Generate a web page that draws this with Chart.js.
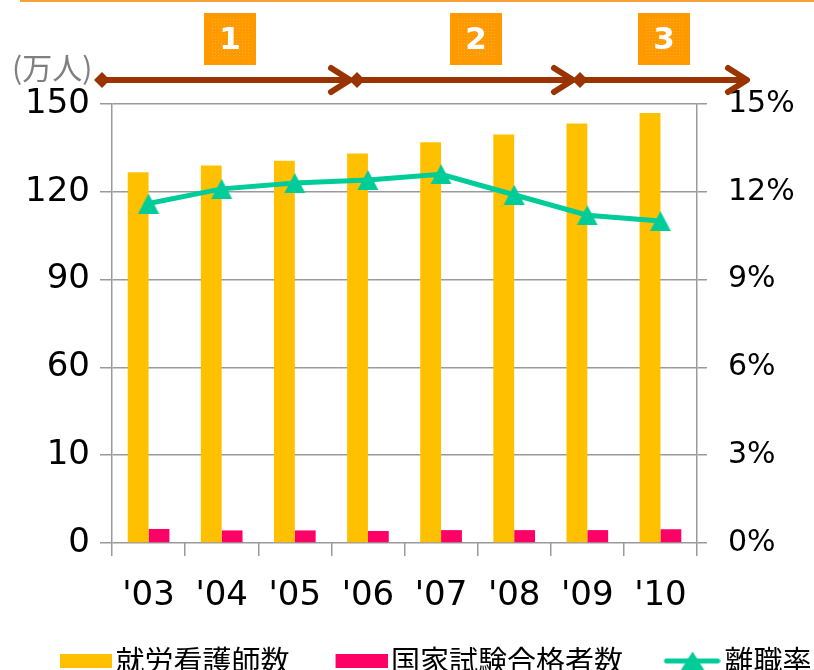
<!DOCTYPE html>
<html>
<head>
<meta charset="utf-8">
<script src="https://cdn.jsdelivr.net/npm/chart.js@4/dist/chart.umd.min.js"></script>
<style>
  body { margin: 0; background: #fff; }
  canvas { display: block; }
</style>
</head>
<body>
<canvas id="chart" width="814" height="670"></canvas>
<script>
// data
const years = ["'03", "'04", "'05", "'06", "'07", "'08", "'09", "'10"];
const nurses = [126.7, 129.0, 130.6, 133.1, 136.9, 139.6, 143.3, 146.9];   // 就労看護師数 (万人)
const passers = [4.8, 4.3, 4.3, 4.1, 4.4, 4.4, 4.4, 4.7];                  // 国家試験合格者数 (万人)
const turnover = [11.6, 12.1, 12.3, 12.4, 12.6, 11.9, 11.2, 11.0];         // 離職率 (%)
const leftTickLabels = ["0", "10", "60", "90", "120", "150"];
const seriesNames = ["就労看護師数", "国家試験合格者数", "離職率"];

const GOLD = "#FFC000", PINK = "#FF0066", TEAL = "#00CC99";
const GRID = "#9a9a9a", BROWN = "#993300", ORANGE = "#FF9900";

function makeCanvas(w, h, draw) {
  const c = document.createElement("canvas");
  c.width = w; c.height = h;
  draw(c.getContext("2d"), w, h);
  return c;
}
function triangle(ctx, cx, cy, w, h) {
  ctx.beginPath();
  ctx.moveTo(cx, cy - h / 2);
  ctx.lineTo(cx + w / 2, cy + h / 2);
  ctx.lineTo(cx - w / 2, cy + h / 2);
  ctx.closePath();
  ctx.fill();
}
// legend keys: a transparent lead-in on the left so the swatch sits close to its text
const KEY_W = 83;
const triMarker = makeCanvas(22, 20, (ctx, w, h) => { ctx.fillStyle = TEAL; triangle(ctx, w / 2, h / 2, 21, 20); });
const goldKey = makeCanvas(KEY_W + 22, 14, (ctx, w, h) => { ctx.fillStyle = GOLD; ctx.fillRect(w - 52, 0, 52, h); });
const pinkKey = makeCanvas(KEY_W + 22, 14, (ctx, w, h) => { ctx.fillStyle = PINK; ctx.fillRect(w - 52, 0, 52, h); });
const lineKey = makeCanvas(KEY_W + 21, 20, (ctx, w, h) => {
  ctx.strokeStyle = TEAL; ctx.lineWidth = 5; ctx.lineCap = "round";
  ctx.beginPath(); ctx.moveTo(w - 54, h / 2); ctx.lineTo(w - 3, h / 2); ctx.stroke();
  ctx.fillStyle = TEAL; triangle(ctx, w - 28, h / 2, 24, 19);
});

// top band: orange rule, unit label, numbered phases and arrows
const decorations = {
  id: "decorations",
  afterDraw(chart) {
    const ctx = chart.ctx;
    ctx.save();
    ctx.strokeStyle = "#F7A13A"; ctx.lineWidth = 2;
    ctx.beginPath(); ctx.moveTo(20, 1); ctx.lineTo(814, 1); ctx.stroke();

    ctx.fillStyle = "#808080";
    ctx.font = "30px 'Noto Sans CJK JP'";
    ctx.textBaseline = "middle"; ctx.textAlign = "left";
    ctx.fillText("(万人)", 12, 68);

    [[204, "1"], [450, "2"], [638, "3"]].forEach(([x, n]) => {
      ctx.fillStyle = ORANGE;
      ctx.fillRect(x, 13, 52, 52);
      ctx.fillStyle = "rgba(255,255,255,0.18)";
      for (let i = x + 8; i < x + 46; i += 3)
        for (let j = 19; j < 60; j += 3) ctx.fillRect(i, j, 1, 1);
      ctx.fillStyle = "#fff";
      ctx.font = "bold 31px 'DejaVu Sans'";
      ctx.textAlign = "center";
      ctx.fillText(n, x + 26, 41);
    });

    const y = 80;
    ctx.strokeStyle = BROWN; ctx.fillStyle = BROWN;
    ctx.lineWidth = 6; ctx.lineCap = "round"; ctx.lineJoin = "round";
    [[102, 350], [357, 573], [580, 747]].forEach(([a, b]) => {
      ctx.beginPath(); ctx.moveTo(a, y); ctx.lineTo(b - 3, y); ctx.stroke();
      ctx.beginPath();
      ctx.moveTo(b - 19, y - 12); ctx.lineTo(b, y); ctx.lineTo(b - 19, y + 12);
      ctx.stroke();
      ctx.beginPath();
      ctx.moveTo(a - 8, y); ctx.lineTo(a, y - 8); ctx.lineTo(a + 8, y); ctx.lineTo(a, y + 8);
      ctx.closePath(); ctx.fill();
    });
    ctx.restore();
  }
};

new Chart(document.getElementById("chart"), {
  type: "bar",
  data: {
    labels: years,
    datasets: [
      {
        type: "line", label: seriesNames[2], data: turnover, yAxisID: "y1", order: 0,
        borderColor: TEAL, borderWidth: 5, pointStyle: triMarker, pointRadius: 10,
        backgroundColor: TEAL
      },
      {
        label: seriesNames[0], data: nurses, yAxisID: "y", order: 1,
        backgroundColor: GOLD, categoryPercentage: 0.57, barPercentage: 1
      },
      {
        label: seriesNames[1], data: passers, yAxisID: "y", order: 2,
        backgroundColor: PINK, categoryPercentage: 0.57, barPercentage: 1
      }
    ]
  },
  options: {
    responsive: false,
    animation: false,
    devicePixelRatio: 1,
    layout: { padding: { top: 104, left: 14, right: -20, bottom: -15.5 } },
    plugins: {
      tooltip: { enabled: false },
      legend: {
        position: "bottom",
        align: "start",
        labels: {
          usePointStyle: true,
          pointStyleWidth: KEY_W,
          padding: 4,
          color: "#000",
          font: { family: "'Noto Sans CJK JP'", size: 29 },
          generateLabels: () => [
            { text: seriesNames[0], pointStyle: goldKey, fillStyle: GOLD, strokeStyle: GOLD, lineWidth: 0, datasetIndex: 1, hidden: false },
            { text: seriesNames[1], pointStyle: pinkKey, fillStyle: PINK, strokeStyle: PINK, lineWidth: 0, datasetIndex: 2, hidden: false },
            { text: seriesNames[2], pointStyle: lineKey, fillStyle: TEAL, strokeStyle: TEAL, lineWidth: 0, datasetIndex: 0, hidden: false }
          ]
        }
      }
    },
    scales: {
      x: {
        grid: { offset: true, drawOnChartArea: false, color: GRID, lineWidth: 1.5, tickLength: 13 },
        border: { display: false },
        ticks: { color: "#000", padding: 20, font: { family: "'DejaVu Sans'", size: 34 }, maxRotation: 0 },
        afterFit(s) { s.height = 99.5; }
      },
      y: {
        position: "left",
        min: 0, max: 150,
        ticks: {
          stepSize: 30, color: "#000", padding: 10,
          font: { family: "'DejaVu Sans'", size: 34 },
          callback: (v, i) => leftTickLabels[i]
        },
        grid: { color: GRID, lineWidth: 1.5, tickLength: 12 },
        border: { color: GRID, width: 1.5 },
        afterFit(s) { s.width = 98; }
      },
      y1: {
        position: "right",
        min: 0, max: 15,
        ticks: {
          stepSize: 3, color: "#000", padding: 21,
          font: { family: "'DejaVu Sans'", size: 30 },
          callback: v => v + "%"
        },
        grid: { drawOnChartArea: false, color: GRID, lineWidth: 1.5, tickLength: 10 },
        border: { color: GRID, width: 1.5 },
        afterFit(s) { s.width = 137; }
      }
    }
  },
  plugins: [decorations]
});
</script>
</body>
</html>
